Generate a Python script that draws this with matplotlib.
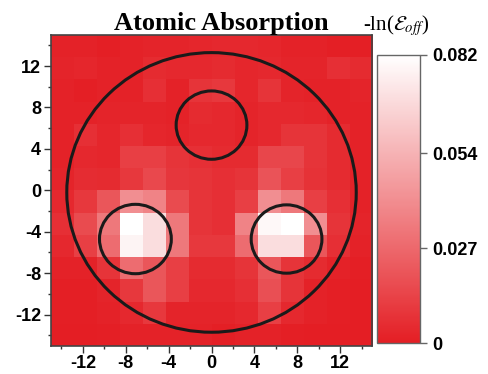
import numpy as np
import matplotlib
matplotlib.use("Agg")
import matplotlib.pyplot as plt
from matplotlib.colors import LinearSegmentedColormap
from matplotlib.patches import Circle
from matplotlib.ticker import MultipleLocator

plt.rcParams['mathtext.fontset'] = 'stix'

#------------------------------- data
# 14 x 14 grid of -ln(E_off), top row first, x and y from -15 to 15
vmax = 0.082
whiteness = np.array([
    [0.02, 0.02, 0.01, 0.02, 0.03, 0.03, 0.04, 0.05, 0.05, 0.04, 0.02, 0.02, 0.01, 0.01],
    [0.03, 0.04, 0.02, 0.02, 0.06, 0.05, 0.05, 0.06, 0.04, 0.05, 0.03, 0.03, 0.08, 0.06],
    [0.02, 0.01, 0.02, 0.02, 0.08, 0.02, 0.10, 0.12, 0.04, 0.10, 0.03, 0.02, 0.02, 0.03],
    [0.02, 0.02, 0.03, 0.03, 0.03, 0.02, 0.06, 0.05, 0.03, 0.05, 0.05, 0.04, 0.02, 0.02],
    [0.02, 0.08, 0.04, 0.08, 0.04, 0.03, 0.05, 0.05, 0.03, 0.05, 0.10, 0.10, 0.06, 0.02],
    [0.02, 0.05, 0.04, 0.15, 0.15, 0.10, 0.08, 0.06, 0.06, 0.18, 0.18, 0.10, 0.06, 0.02],
    [0.03, 0.07, 0.06, 0.12, 0.19, 0.11, 0.10, 0.08, 0.10, 0.24, 0.15, 0.09, 0.06, 0.02],
    [0.05, 0.12, 0.25, 0.50, 0.45, 0.20, 0.10, 0.08, 0.15, 0.50, 0.40, 0.15, 0.08, 0.02],
    [0.08, 0.20, 0.40, 1.00, 0.85, 0.40, 0.10, 0.08, 0.45, 0.97, 1.00, 0.50, 0.10, 0.03],
    [0.05, 0.15, 0.35, 0.95, 0.85, 0.40, 0.12, 0.12, 0.35, 0.85, 0.85, 0.25, 0.08, 0.02],
    [0.02, 0.02, 0.10, 0.35, 0.25, 0.15, 0.06, 0.06, 0.10, 0.25, 0.10, 0.06, 0.02, 0.01],
    [0.01, 0.01, 0.03, 0.12, 0.25, 0.15, 0.05, 0.05, 0.08, 0.22, 0.10, 0.02, 0.01, 0.00],
    [0.01, 0.01, 0.02, 0.05, 0.12, 0.03, 0.03, 0.03, 0.05, 0.15, 0.05, 0.02, 0.01, 0.00],
    [0.00, 0.00, 0.01, 0.02, 0.02, 0.02, 0.02, 0.01, 0.02, 0.02, 0.01, 0.00, 0.00, 0.00],
])
absorption = whiteness * vmax

circle_x = [0.0, 0.0, -7.1, 7.0]
circle_y = [-0.2, 6.3, -4.7, -4.7]
circle_r = [13.5, 3.3, 3.35, 3.3]

xticks = [-12, -8, -4, 0, 4, 8, 12]
yticks = [-12, -8, -4, 0, 4, 8, 12]
cbar_ticks = [0, 0.027, 0.054, 0.082]
#-------------------------------

red_white = LinearSegmentedColormap.from_list('rw', ['#E41E24', '#FFFFFF'])
tick_font = dict(family='Liberation Sans', weight='bold', size=13)

fig = plt.figure(figsize=(4.89, 3.74), dpi=100)
ax = fig.add_axes([0.1037, 0.0757, 0.6577, 0.8307])

im = ax.imshow(absorption, cmap=red_white, vmin=0, vmax=vmax, origin='upper',
               extent=[-15, 15, -15, 15], aspect='auto', interpolation='nearest')

for cx, cy, r in zip(circle_x, circle_y, circle_r):
    ax.add_patch(Circle((cx, cy), r, fill=False, ec='#1a1a1a', lw=2.2))

ax.set_xlim(-15, 15)
ax.set_ylim(-15, 15)
ax.set_xticks(xticks)
ax.set_yticks(yticks)
ax.xaxis.set_minor_locator(MultipleLocator(2))
ax.yaxis.set_minor_locator(MultipleLocator(2))
ax.tick_params(which='major', direction='out', length=5, width=1, color='#333333', pad=2)
ax.tick_params(which='minor', direction='out', length=2.5, width=1, color='#333333')
ax.set_xticklabels([str(t) for t in xticks], **tick_font)
ax.set_yticklabels([str(t) for t in yticks], **tick_font)
for s in ax.spines.values():
    s.set_color('#444444')
    s.set_linewidth(1.2)

ax.set_title('Atomic Absorption', family='Liberation Serif', weight='bold',
             size=19, pad=3, x=0.53)

cax = fig.add_axes([0.7716, 0.0821, 0.0873, 0.771])
cb = fig.colorbar(im, cax=cax, ticks=cbar_ticks)
cb.outline.set_edgecolor('#666666')
cb.outline.set_linewidth(1)
cax.tick_params(direction='out', length=5, width=1, color='#666666', pad=4)
cax.set_yticklabels(['0', '0.027', '0.054', '0.082'], **tick_font)

fig.text(0.742, 0.92, r'-ln($\mathcal{E}_{off}$)', family='Liberation Serif',
         size=15, ha='left', va='baseline')

fig.savefig('out.png', dpi=100)
